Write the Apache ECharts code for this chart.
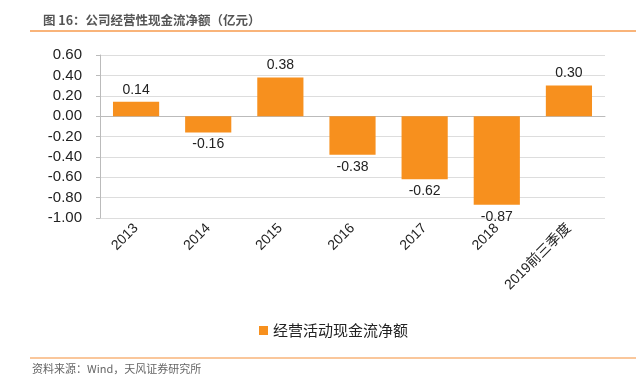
<!DOCTYPE html>
<html lang="zh">
<head>
<meta charset="UTF-8">
<title>公司经营性现金流净额</title>
<script src="https://cdn.jsdelivr.net/npm/echarts@6/dist/echarts.min.js"></script>
<style>
  html, body { margin: 0; padding: 0; background: #fff; }
  #chart { width: 636px; height: 376px; }
</style>
</head>
<body>
<div id="chart"></div>
<script>
  // 数据
  var years = ['2013', '2014', '2015', '2016', '2017', '2018', '2019前三季度']
  var cashFlow = [0.14, -0.16, 0.38, -0.38, -0.62, -0.87, 0.30]
  var seriesName = '经营活动现金流净额'

  var chart = echarts.init(document.getElementById('chart'))

  // 负值标签放在柱子下方
  var barData = cashFlow.map(function (v) {
    return { value: v, label: { position: v < 0 ? 'bottom' : 'top' } }
  })

  var option = {
    animation: false,
    textStyle: { fontFamily: 'Liberation Sans, Arial, Noto Sans CJK SC' },
    title: {
      text: '图 16：公司经营性现金流净额（亿元）',
      left: 38, top: 9,
      textStyle: { fontSize: 12.5, fontWeight: 'bold', color: '#555', fontFamily: 'Noto Sans CJK SC' }
    },
    graphic: [
      { type: 'line', shape: { x1: 30, y1: 31, x2: 636, y2: 31 }, style: { stroke: '#F9B47A', lineWidth: 2 } },
      { type: 'line', shape: { x1: 30, y1: 358, x2: 636, y2: 358 }, style: { stroke: '#F9B47A', lineWidth: 1.5 } },
      { type: 'text', left: 32, top: 363, style: { text: '资料来源：Wind，天风证券研究所', fontSize: 11, fill: '#666', fontFamily: 'Noto Sans CJK SC' } }
    ],
    legend: {
      data: [seriesName],
      top: 318, left: 254,
      itemWidth: 9, itemHeight: 9, itemGap: 2,
      icon: 'rect',
      textStyle: { fontSize: 15, color: '#222', fontFamily: 'Noto Sans CJK SC' }
    },
    grid: { left: 100, right: 31, top: 55, bottom: 158 },
    xAxis: {
      type: 'category',
      data: years,
      axisLine: { lineStyle: { color: '#bbb' } },
      axisTick: { show: false },
      axisLabel: { rotate: 45, fontSize: 14, color: '#222', margin: 8 }
    },
    yAxis: {
      type: 'value',
      min: -1, max: 0.6, interval: 0.2,
      axisLine: { show: true, lineStyle: { color: '#bbb' } },
      axisTick: { show: true, length: 4, lineStyle: { color: '#bbb' } },
      splitLine: { lineStyle: { color: '#ddd' } },
      axisLabel: {
        fontSize: 15, color: '#222', margin: 18,
        formatter: function (v) { return v.toFixed(2) }
      }
    },
    series: [{
      name: seriesName,
      type: 'bar',
      data: barData,
      barWidth: '64%',
      itemStyle: { color: '#F7901E' },
      label: {
        show: true, fontSize: 14, color: '#222',
        formatter: function (p) { return p.value.toFixed(2) }
      }
    }]
  }
  chart.setOption(option)
</script>
</body>
</html>
